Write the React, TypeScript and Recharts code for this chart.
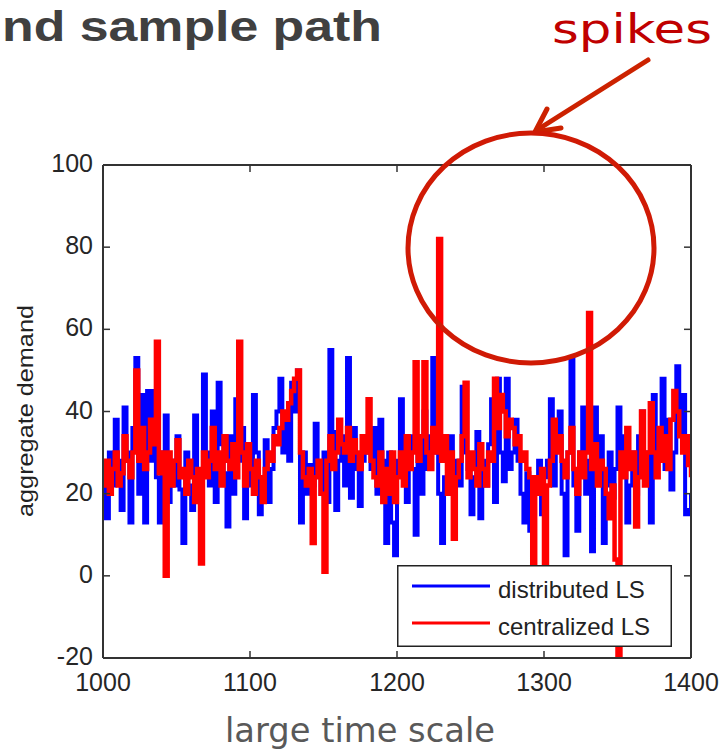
import React from 'react';
import { LineChart, Line, XAxis, YAxis, Legend } from 'recharts';

// ---- data ----
const TIME_START = 1000;
const TIME_STEP = 2;

const distributedLS = [
  24, 14, 30, 22, 38, 28, 16, 41, 30, 13,
  36, 53, 20, 44, 13, 45, 28, 45, 24, 13,
  30, 39, 18, 28, 22, 34, 21, 8, 30, 22,
  16, 39, 24, 14, 49, 30, 22, 40, 18, 47,
  32, 25, 12, 34, 20, 43, 28, 36, 14, 30,
  22, 44, 30, 15, 22, 33, 18, 26, 36, 40,
  48, 30, 38, 28, 47, 40, 50, 13, 30, 20,
  27, 22, 37, 26, 20, 30, 18, 55, 35, 16,
  28, 34, 22, 53, 19, 36, 26, 17, 28, 34,
  30, 26, 36, 20, 38, 28, 8, 30, 13, 5,
  28, 43, 25, 18, 34, 26, 10, 30, 20, 40,
  26, 34, 53, 30, 20, 8, 24, 30, 34, 20,
  28, 22, 46, 30, 26, 15, 24, 35, 14, 28,
  22, 32, 43, 18, 48, 30, 23, 48, 26, 30,
  38, 28, 20, 13, 25, 11, 20, 22, 28, 15,
  24, 28, 43, 22, 34, 40, 20, 5, 30, 53,
  22, 11, 30, 41, 20, 28, 6, 41, 25, 34,
  8, 22, 30, 19, 26, 41, 27, 34, 13, 22,
  30, 20, 34, 40, 24, 30, 13, 44, 30, 36,
  48, 26, 38, 21, 30, 51, 35, 44, 15, 16,
  20,
];

const centralizedLS = [
  22, 28, 20, 26, 30, 22, 25, 34, 28, 24,
  30, 50, 28, 36, 26, 30, 38, 32, 57, 25,
  30, 0, 30, 22, 28, 33, 24, 26, 20, 28,
  24, 18, 26, 3, 30, 24, 28, 36, 26, 30,
  22, 34, 28, 26, 32, 24, 57, 30, 22, 32,
  26, 20, 28, 24, 18, 26, 30, 28, 34, 32,
  36, 40, 38, 42, 45, 48, 50, 30, 24, 22,
  26, 8, 24, 28, 20, 1, 28, 34, 26, 30,
  38, 32, 30, 36, 28, 33, 30, 26, 34, 30,
  43, 28, 24, 22, 30, 18, 26, 20, 30, 18,
  24, 30, 22, 34, 26, 30, 52, 28, 34, 52,
  30, 26, 36, 30, 82, 28, 34, 20, 30, 9,
  24, 28, 34, 47, 24, 30, 26, 22, 32, 26,
  22, 30, 28, 48, 36, 44, 40, 34, 38, 36,
  32, 34, 28, 30, 26, 24, -2, 24, 20, 26,
  -2, 22, 28, 38, 30, 34, 28, 24, 30, 36,
  26, 20, 30, 24, 30, 64, 26, 32, 22, 28,
  26, 20, 14, 22, 4, -19.5, 30, 24, 36, 26,
  30, 12, 24, 40, 22, 30, 42, 30, 24, 36,
  28, 34, 26, 38, 45, 40, 34, 30, 34, 27,
  24,
];

const xTicks = [1000, 1100, 1200, 1300, 1400];
const yTicks = [-20, 0, 20, 40, 60, 80, 100];
const seriesNames = ['distributed LS', 'centralized LS'];

const data = distributedLS.map((v, i) => ({
  t: TIME_START + i * TIME_STEP,
  distributed: v,
  centralized: centralizedLS[i],
}));

const W = 719;
const H = 755;
const AX = '#333333';
const FONT = '"Liberation Sans", Arial, Helvetica, sans-serif';

const XTick = (props: any) => {
  const { x, y, payload } = props;
  return (
    <g>
      <line x1={x} y1={y} x2={x} y2={y - 7} stroke={AX} strokeWidth={1.5} />
      <text x={x} y={y + 33} textAnchor="middle" fontFamily={FONT} fontSize={25} fill="#262626">
        {payload.value}
      </text>
    </g>
  );
};

const TopTick = (props: any) => {
  const { x, y } = props;
  return <line x1={x} y1={y} x2={x} y2={y + 7} stroke={AX} strokeWidth={1.5} />;
};

const YTick = (props: any) => {
  const { x, y, payload } = props;
  return (
    <g>
      <line x1={x} y1={y} x2={x + 7} y2={y} stroke={AX} strokeWidth={1.5} />
      <text x={x - 10} y={y + 7} textAnchor="end" fontFamily={FONT} fontSize={25} fill="#262626">
        {payload.value}
      </text>
    </g>
  );
};

const RightTick = (props: any) => {
  const { x, y } = props;
  return <line x1={x} y1={y} x2={x - 7} y2={y} stroke={AX} strokeWidth={1.5} />;
};

const LegendBox = () => (
  <svg width={275} height={82} style={{ display: 'block' }}>
    <rect x={0.75} y={0.75} width={273.5} height={80.5} fill="#ffffff" stroke="#222" strokeWidth={1.5} />
    <line x1={15} y1={21} x2={93} y2={21} stroke="#0000ff" strokeWidth={3} />
    <text x={101} y={33} fontFamily={FONT} fontSize={24} fill="#222">{seriesNames[0]}</text>
    <line x1={15} y1={58} x2={93} y2={58} stroke="#ff0000" strokeWidth={3} />
    <text x={101} y={70} fontFamily={FONT} fontSize={24} fill="#222">{seriesNames[1]}</text>
  </svg>
);

const Overlay = () => (
  <svg
    width={W}
    height={H}
    style={{ position: 'absolute', left: 0, top: 0, pointerEvents: 'none' }}
  >
    <text x={2} y={41} fontFamily={FONT} fontWeight="bold" fontSize={42} fill="#404040" textLength={380} lengthAdjust="spacingAndGlyphs">
      nd sample path
    </text>
    <text x={552} y={43} fontFamily='"DejaVu Sans", sans-serif' fontSize={40} fill="#c00000" textLength={160} lengthAdjust="spacingAndGlyphs">
      spikes
    </text>
    <line x1={648} y1={60} x2={537} y2={130} stroke="#cc2200" strokeWidth={5} strokeLinecap="round" />
    <polyline points="547,109 535,132 561,128" fill="none" stroke="#cc2200" strokeWidth={5} strokeLinecap="round" strokeLinejoin="round" />
    <ellipse cx={531} cy={248} rx={123} ry={115} fill="none" stroke="#d01a05" strokeWidth={5} />
    <text
      x={0}
      y={0}
      transform="translate(33,411) rotate(-90)"
      textAnchor="middle"
      fontFamily={FONT}
      fontSize={22}
      fill="#222"
      textLength={212}
      lengthAdjust="spacingAndGlyphs"
    >
      aggregate demand
    </text>
    <text x={360} y={742} textAnchor="middle" fontFamily='"DejaVu Sans", sans-serif' fontSize={34} fill="#595959" textLength={270} lengthAdjust="spacingAndGlyphs">
      large time scale
    </text>
  </svg>
);

export default function App() {
  return (
    <div style={{ position: 'absolute', left: 0, top: 0, width: W, height: H, background: '#fff' }}>
      <LineChart
        width={W}
        height={H}
        data={data}
        margin={{ top: 164, right: 27, left: 0, bottom: 0 }}
      >
        <XAxis
          xAxisId="bottom"
          dataKey="t"
          type="number"
          domain={[1000, 1400]}
          ticks={xTicks}
          allowDataOverflow
          height={97}
          tickLine={false}
          tickSize={0}
          tickMargin={0}
          tick={<XTick />}
          axisLine={{ stroke: AX, strokeWidth: 2 }}
          interval={0}
        />
        <XAxis
          xAxisId="top"
          orientation="top"
          dataKey="t"
          type="number"
          domain={[1000, 1400]}
          ticks={xTicks}
          allowDataOverflow
          height={1}
          tickLine={false}
          tickSize={0}
          tickMargin={0}
          tick={<TopTick />}
          axisLine={{ stroke: AX, strokeWidth: 2 }}
          interval={0}
        />
        <YAxis
          yAxisId="left"
          type="number"
          domain={[-20, 100]}
          ticks={yTicks}
          allowDataOverflow
          width={103}
          tickLine={false}
          tickSize={0}
          tickMargin={0}
          tick={<YTick />}
          axisLine={{ stroke: AX, strokeWidth: 2 }}
          interval={0}
        />
        <YAxis
          yAxisId="right"
          orientation="right"
          type="number"
          domain={[-20, 100]}
          ticks={yTicks}
          allowDataOverflow
          width={1}
          tickLine={false}
          tickSize={0}
          tickMargin={0}
          tick={<RightTick />}
          axisLine={{ stroke: AX, strokeWidth: 2 }}
          interval={0}
        />
        <Line
          xAxisId="bottom"
          yAxisId="left"
          type="stepAfter"
          dataKey="distributed"
          name={seriesNames[0]}
          stroke="#0000ff"
          strokeWidth={4}
          dot={false}
          isAnimationActive={false}
        />
        <Line
          xAxisId="bottom"
          yAxisId="left"
          type="stepAfter"
          dataKey="centralized"
          name={seriesNames[1]}
          stroke="#ff0000"
          strokeWidth={4.5}
          dot={false}
          isAnimationActive={false}
        />
        <Legend
          layout="horizontal"
          verticalAlign="middle"
          align="center"
          wrapperStyle={{ position: 'absolute', left: 397, top: 565, width: 275, height: 82 }}
          content={() => <LegendBox />}
        />
      </LineChart>
      <Overlay />
    </div>
  );
}
